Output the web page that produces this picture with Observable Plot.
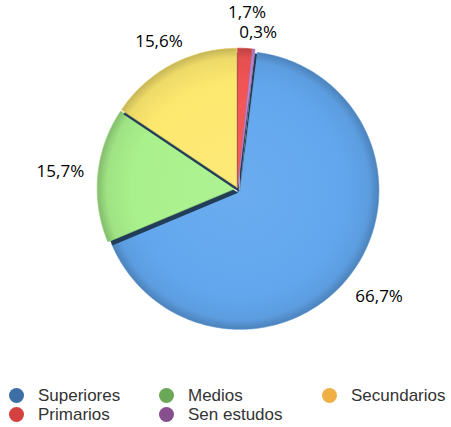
<!DOCTYPE html>
<html>
<head>
<meta charset="utf-8">
<script src="https://cdn.jsdelivr.net/npm/d3@7"></script>
<script src="https://cdn.jsdelivr.net/npm/@observablehq/plot@0.6"></script>
<style>
  html, body { margin: 0; padding: 0; background: #fff; }
  #chart svg { display: block; }
  .legend { position: relative; height: 49px; font-family: "Liberation Sans", Arial, sans-serif; font-size: 17px; color: #333; }
  .legend .item { position: absolute; display: flex; align-items: center; height: 19px; white-space: nowrap; }
  .legend .sw { width: 15px; height: 15px; border-radius: 50%; margin-right: 14px; flex: none; }
</style>
</head>
<body>
<div id="chart"></div>
<div class="legend" id="legend"></div>
<script>
// ---- data ----
const categories = ["Superiores", "Medios", "Secundarios", "Primarios", "Sen estudos"];
const values = [66.7, 15.7, 15.6, 1.7, 0.3];
const sliceOrder = ["Primarios", "Sen estudos", "Superiores", "Medios", "Secundarios"];
const legendColors = ["#3d6fa6", "#6aa757", "#efb045", "#d43f3f", "#874f8e"];
const sliceColors = ["#62a7ee", "#a9f18c", "#fde86f", "#f25454", "#c48ad8"];
const exploded = ["Superiores"];

// ---- layout ----
const W = 451, H = 378;
const CX = 237, CY = 188, R = 139;       // pixel centre / radius
const EXPLODE = 0.022;                   // radius units, exploded slice
const GAP = 0.01;                        // radius units, other slices
const LABEL_DIST = 1.28;                 // radius units
const labelDistOverride = {Secundarios: 1.2};
const LABEL_TOP = 12;                    // px, min distance of a label centre from the top
const SHADOW_DX = 2, SHADOW_DY = 4.5;
const SHADOW_INSET = 3;                  // px, shadows kept inside the rim
const fmt = v => v.toFixed(1).replace(".", ",") + "%";

const valueOf = Object.fromEntries(categories.map((c, i) => [c, values[i]]));
const colorOf = Object.fromEntries(categories.map((c, i) => [c, sliceColors[i]]));

const pie = d3.pie().sort(null).value(d => valueOf[d])(sliceOrder);

function shade(c, k) { return d3.interpolateRgb(c, k > 0 ? "#fff" : "#000")(Math.abs(k)); }

const slices = pie.map((p, i) => {
  const key = p.data;
  const mid = (p.startAngle + p.endAngle) / 2;
  const off = exploded.includes(key) ? EXPLODE : GAP;
  const ox = off * Math.sin(mid), oy = off * Math.cos(mid);
  const pts = [{x: ox, y: oy}];
  const n = Math.max(2, Math.ceil((p.endAngle - p.startAngle) / (Math.PI / 180)));
  for (let j = 0; j <= n; j++) {
    const a = p.startAngle + (p.endAngle - p.startAngle) * j / n;
    pts.push({x: ox + Math.sin(a), y: oy + Math.cos(a)});
  }
  pts.push({x: ox, y: oy});
  return {key, mid, ox, oy, pts, id: "g" + i, color: colorOf[key]};
});

// labels at mid-angle, kept inside the top edge and de-overlapped vertically
const yMax = (CY - LABEL_TOP) / R;
const labels = slices.map(s => {
  const d = labelDistOverride[s.key] ?? LABEL_DIST;
  return {key: s.key, text: fmt(valueOf[s.key]), x: d * Math.sin(s.mid), y: Math.min(yMax, d * Math.cos(s.mid))};
});
const minGap = 20 / R;
const right = labels.filter(l => l.x >= 0).sort((a, b) => b.y - a.y);
for (let i = 1; i < right.length; i++) {
  if (right[i - 1].y - right[i].y < minGap && Math.abs(right[i - 1].x - right[i].x) < 45 / R) {
    right[i].y = right[i - 1].y - minGap;
  }
}

const xDom = [-CX / R, (W - CX) / R];
const yDom = [-(H - CY) / R, CY / R];

// draw order: each slice's shadow falls on the slices drawn before it
const drawOrder = [2, 3, 4, 0, 1].map(i => slices[i]);
const marks = [];
for (const s of drawOrder) {
  marks.push(Plot.line(s.pts, {x: "x", y: "y", fill: "#223d58", stroke: "none", dx: SHADOW_DX, dy: SHADOW_DY, curve: "linear-closed"}));
  marks.push(Plot.line(s.pts, {x: "x", y: "y", fill: `url(#${s.id})`, stroke: shade(s.color, -0.1), strokeWidth: 0.6, curve: "linear-closed"}));
}
marks.push(Plot.text(labels, {
  x: "x", y: "y", text: "text", fontSize: 17, fontFamily: "'Open Sans', 'DejaVu Sans', sans-serif",
  fill: "#000", textAnchor: "middle", lineAnchor: "middle"
}));

const chart = Plot.plot({
  width: W, height: H,
  margin: 0,
  x: {domain: xDom, axis: null},
  y: {domain: yDom, axis: null},
  marks
});

const xs = chart.scale("x"), ys = chart.scale("y");
const rpx = xs.apply(1) - xs.apply(0);
const ns = "http://www.w3.org/2000/svg";
const defs = document.createElementNS(ns, "defs");
// radial gradients centred on each slice's centre
for (const s of slices) {
  const g = document.createElementNS(ns, "radialGradient");
  g.setAttribute("id", s.id);
  g.setAttribute("gradientUnits", "userSpaceOnUse");
  g.setAttribute("cx", xs.apply(s.ox));
  g.setAttribute("cy", ys.apply(s.oy));
  g.setAttribute("r", rpx);
  [[0, shade(s.color, 0.06)], [0.75, s.color], [0.93, shade(s.color, -0.06)], [1, shade(s.color, -0.22)]].forEach(([o, c]) => {
    const st = document.createElementNS(ns, "stop");
    st.setAttribute("offset", o);
    st.setAttribute("stop-color", c);
    g.appendChild(st);
  });
  defs.appendChild(g);
}
// clip for the shadows: the slice discs, slightly inset from the rim
const cp = document.createElementNS(ns, "clipPath");
cp.setAttribute("id", "pieclip");
for (const s of slices) {
  const c = document.createElementNS(ns, "circle");
  c.setAttribute("cx", xs.apply(s.ox));
  c.setAttribute("cy", ys.apply(s.oy));
  c.setAttribute("r", rpx - SHADOW_INSET);
  cp.appendChild(c);
}
defs.appendChild(cp);
chart.insertBefore(defs, chart.firstChild);
const lineGroups = Array.from(chart.querySelectorAll('g[aria-label="line"]'));
lineGroups.filter((g, i) => i % 2 === 0).forEach(g => {
  const wrap = document.createElementNS(ns, "g");
  wrap.setAttribute("clip-path", "url(#pieclip)");
  g.parentNode.insertBefore(wrap, g);
  wrap.appendChild(g);
});
document.getElementById("chart").appendChild(chart);

// legend
const legendPos = [[9, 8], [159, 8], [322, 8], [9, 27], [159, 27]];
const legend = document.getElementById("legend");
categories.forEach((c, i) => {
  const it = document.createElement("div");
  it.className = "item";
  it.style.left = legendPos[i][0] + "px";
  it.style.top = legendPos[i][1] + "px";
  const sw = document.createElement("span");
  sw.className = "sw";
  sw.style.background = legendColors[i];
  const tx = document.createElement("span");
  tx.textContent = c;
  it.appendChild(sw); it.appendChild(tx);
  legend.appendChild(it);
});
</script>
</body>
</html>
